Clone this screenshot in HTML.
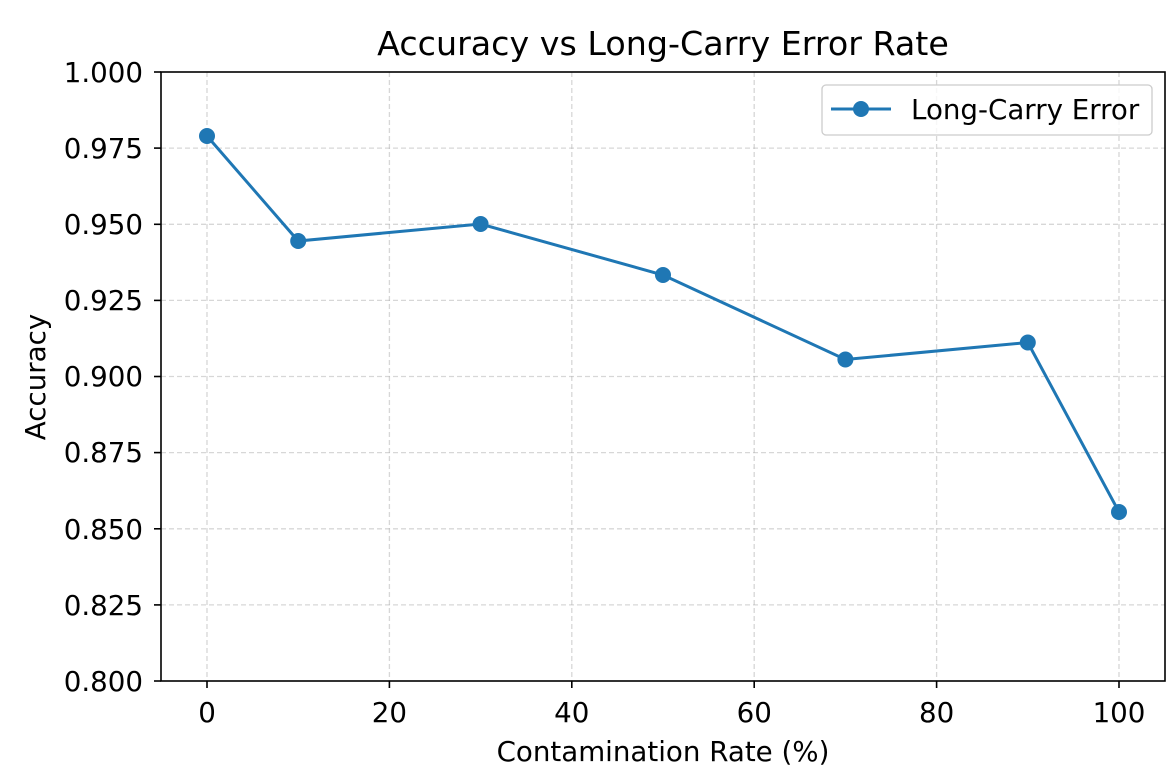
<!DOCTYPE html>
<html><head><meta charset="utf-8"><style>body{margin:0;background:#fff}svg{display:block}text{font-family:"DejaVu Sans","Liberation Sans",sans-serif;fill:#000}</style></head>
<body>
<svg width="1172" height="780" viewBox="0 0 1172 780" xmlns="http://www.w3.org/2000/svg">
<rect width="1172" height="780" fill="#fff"/>
<g stroke="#b0b0b0" stroke-opacity="0.5" stroke-width="1.3" stroke-dasharray="5,3">
<line x1="207" y1="72" x2="207" y2="681"/><line x1="389.4" y1="72" x2="389.4" y2="681"/><line x1="571.8" y1="72" x2="571.8" y2="681"/><line x1="754.2" y1="72" x2="754.2" y2="681"/><line x1="936.6" y1="72" x2="936.6" y2="681"/><line x1="1119" y1="72" x2="1119" y2="681"/>
<line x1="161" y1="148.1" x2="1165" y2="148.1"/><line x1="161" y1="224.3" x2="1165" y2="224.3"/><line x1="161" y1="300.4" x2="1165" y2="300.4"/><line x1="161" y1="376.5" x2="1165" y2="376.5"/><line x1="161" y1="452.6" x2="1165" y2="452.6"/><line x1="161" y1="528.8" x2="1165" y2="528.8"/><line x1="161" y1="604.9" x2="1165" y2="604.9"/>
</g>
<rect x="161" y="72" width="1004" height="609" fill="none" stroke="#000" stroke-width="1.6"/>
<g stroke="#000" stroke-width="1.6">
<line x1="207" y1="681" x2="207" y2="688"/><line x1="389.4" y1="681" x2="389.4" y2="688"/><line x1="571.8" y1="681" x2="571.8" y2="688"/><line x1="754.2" y1="681" x2="754.2" y2="688"/><line x1="936.6" y1="681" x2="936.6" y2="688"/><line x1="1119" y1="681" x2="1119" y2="688"/>
<line x1="154" y1="72" x2="161" y2="72"/><line x1="154" y1="148.1" x2="161" y2="148.1"/><line x1="154" y1="224.3" x2="161" y2="224.3"/><line x1="154" y1="300.4" x2="161" y2="300.4"/><line x1="154" y1="376.5" x2="161" y2="376.5"/><line x1="154" y1="452.6" x2="161" y2="452.6"/><line x1="154" y1="528.8" x2="161" y2="528.8"/><line x1="154" y1="604.9" x2="161" y2="604.9"/><line x1="154" y1="681" x2="161" y2="681"/>
</g>
<g font-size="27.7" text-anchor="middle">
<text x="207" y="722">0</text><text x="389.4" y="722">20</text><text x="571.8" y="722">40</text><text x="754.2" y="722">60</text><text x="936.6" y="722">80</text><text x="1119" y="722">100</text>
</g>
<g font-size="27.7" text-anchor="end">
<text x="143" y="82">1.000</text><text x="143" y="158">0.975</text><text x="143" y="234">0.950</text><text x="143" y="310">0.925</text><text x="143" y="386">0.900</text><text x="143" y="462">0.875</text><text x="143" y="539">0.850</text><text x="143" y="615">0.825</text><text x="143" y="691">0.800</text>
</g>
<text x="663" y="761" font-size="27.7" text-anchor="middle">Contamination Rate (%)</text>
<text transform="translate(45,377) rotate(-90)" font-size="27.7" text-anchor="middle">Accuracy</text>
<text x="663" y="55" font-size="33.3" text-anchor="middle">Accuracy vs Long-Carry Error Rate</text>
<polyline fill="none" stroke="#1f77b4" stroke-width="3" points="207,136 298.2,241 480.6,224 663,275 845.4,359.5 1027.8,342.5 1119,512"/>
<g fill="#1f77b4">
<circle cx="207" cy="136" r="8"/><circle cx="298.2" cy="241" r="8"/><circle cx="480.6" cy="224" r="8"/><circle cx="663" cy="275" r="8"/><circle cx="845.4" cy="359.5" r="8"/><circle cx="1027.8" cy="342.5" r="8"/><circle cx="1119" cy="512" r="8"/>
</g>
<rect x="822" y="85" width="330" height="50" rx="4" fill="#fff" fill-opacity="0.8" stroke="#ccc" stroke-width="1.3"/>
<line x1="831" y1="109" x2="891" y2="109" stroke="#1f77b4" stroke-width="3"/>
<circle cx="861" cy="109" r="8" fill="#1f77b4"/>
<text x="911" y="119" font-size="27.7">Long-Carry Error</text>
</svg>
</body></html>
